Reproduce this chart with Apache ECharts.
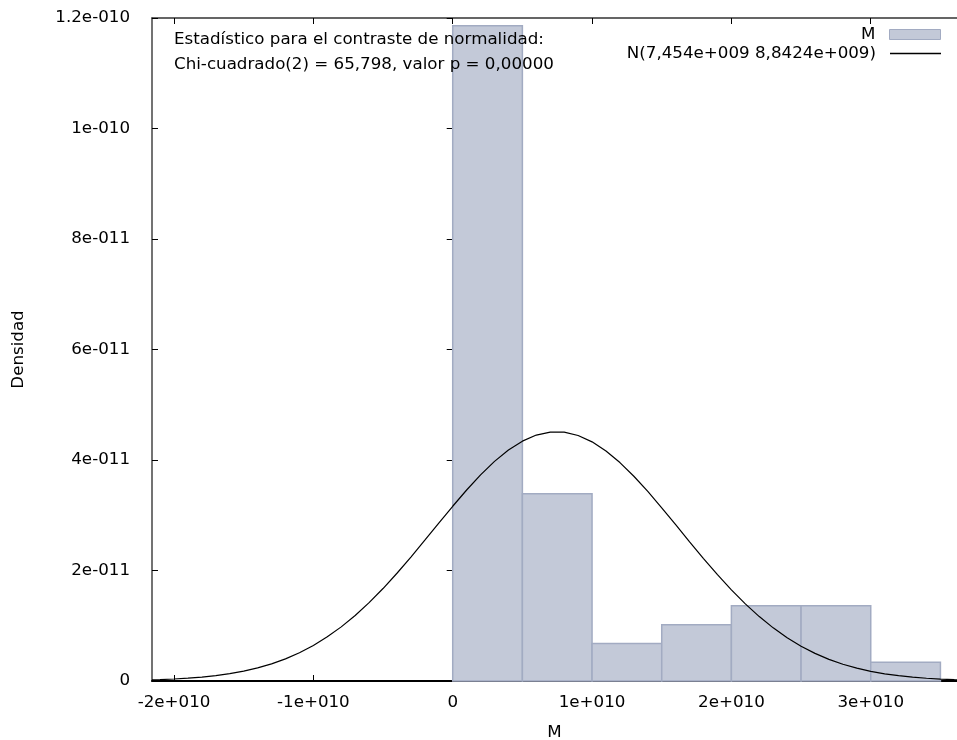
<!DOCTYPE html>
<html>
<head>
<meta charset="utf-8">
<script src="https://cdn.jsdelivr.net/npm/echarts@6/dist/echarts.min.js"></script>
<style>
html,body{margin:0;padding:0;background:#fff;}
#chart{width:957px;height:740px;}
</style>
</head>
<body>
<div id="chart"></div>
<script>
// ---- Data ----
const binStart = [0, 5e9, 1e10, 1.5e10, 2e10, 2.5e10, 3e10];
const binEnd   = [5e9, 1e10, 1.5e10, 2e10, 2.5e10, 3e10, 3.5e10];
const density  = [1.186e-10, 3.39e-11, 6.8e-12, 1.02e-11, 1.36e-11, 1.36e-11, 3.4e-12];

// Normal curve points (x in units of 1e9, y in units of 1e-11)
const curveX = [-21.58, -21, -20, -19, -18, -17, -16, -15, -14, -13, -12, -11, -10, -9, -8, -7, -6, -5, -4, -3, -2, -1,
  0, 1, 2, 3, 4, 5, 6, 7, 8, 9, 10, 11, 12, 13, 14, 15, 16, 17, 18, 19, 20, 21, 22, 23, 24, 25, 26, 27, 28, 29, 30,
  31, 32, 33, 34, 35, 36, 36.2];
const curveY = [0.0206, 0.0255, 0.0364, 0.0514, 0.0716, 0.0985, 0.1339, 0.1795, 0.2377, 0.3108, 0.4011, 0.5112,
  0.6431, 0.7989, 0.9797, 1.1862, 1.418, 1.6736, 1.950, 2.2432, 2.5477, 2.8568,
  3.1627, 3.4569, 3.7304, 3.9745, 4.1806, 4.3415, 4.4514, 4.506, 4.5034, 4.4436, 4.3288, 4.1634, 3.9534, 3.7064,
  3.4305, 3.1349, 2.8284, 2.5194, 2.2157, 1.9238, 1.649, 1.3955, 1.1661, 0.9621, 0.7835, 0.6300, 0.5002, 0.3921,
  0.3034, 0.2318, 0.1749, 0.1302, 0.0957, 0.0695, 0.0498, 0.0352, 0.0246, 0.0229];

const xTicks = [-2e10, -1e10, 0, 1e10, 2e10, 3e10];
const xTickLabels = ['-2e+010', '-1e+010', '0', '1e+010', '2e+010', '3e+010'];
const yTickLabels = ['0', '2e-011', '4e-011', '6e-011', '8e-011', '1e-010', '1.2e-010'];

const histName = 'M';
const curveName = 'N(7,454e+009 8,8424e+009)';
const statLine1 = 'Estadístico para el contraste de normalidad:';
const statLine2 = 'Chi-cuadrado(2) = 65,798, valor p = 0,00000';

// ---- Chart ----
const FONT = 'DejaVu Sans';
const FS = 16.7;
const chart = echarts.init(document.getElementById('chart'), null, {renderer: 'canvas'});

const xMin = -2.158e10, xMax = 3.619e10;
const tickStyle = {show: true, inside: true, length: 6, lineStyle: {color: '#000', width: 1}};
const legendText = {fontFamily: FONT, fontSize: FS, color: '#000', padding: [0, 9, 0, 0]};

const option = {
  animation: false,
  backgroundColor: '#fff',
  textStyle: {fontFamily: FONT},
  grid: {left: 152, top: 18, right: 0, height: 663, show: false, outerBoundsMode: 'none', containLabel: false},
  legend: [
    {
      orient: 'vertical', align: 'right', right: 16, top: 26, padding: 0,
      itemWidth: 51, itemHeight: 10,
      textStyle: legendText,
      data: [{name: histName, icon: 'rect', itemStyle: {color: '#c3c9d8', borderColor: '#a2abc2', borderWidth: 1}}]
    },
    {
      orient: 'vertical', align: 'right', right: 16, top: 45, padding: 0,
      itemWidth: 51, itemHeight: 1.3,
      textStyle: legendText,
      data: [{name: curveName, icon: 'rect', itemStyle: {color: '#000', borderWidth: 0}}]
    }
  ],
  graphic: [
    {type: 'text', z: 100, style: {x: 174, y: 40, text: statLine1, font: FS + 'px "' + FONT + '"', fill: '#000', verticalAlign: 'middle'}},
    {type: 'text', z: 100, style: {x: 174, y: 65, text: statLine2, font: FS + 'px "' + FONT + '"', fill: '#000', verticalAlign: 'middle'}}
  ],
  xAxis: [
    {
      type: 'value', min: xMin, max: xMax, position: 'bottom',
      axisLine: {show: true, onZero: false, lineStyle: {color: '#000', width: 2}},
      axisTick: Object.assign({customValues: xTicks}, tickStyle),
      axisLabel: {
        customValues: xTicks, margin: 13, color: '#000', fontFamily: FONT, fontSize: FS,
        formatter: v => xTickLabels[xTicks.indexOf(v)]
      },
      splitLine: {show: false},
      name: 'M', nameLocation: 'middle', nameGap: 43,
      nameTextStyle: {fontFamily: FONT, fontSize: FS, color: '#000'}
    },
    {
      type: 'value', min: xMin, max: xMax, position: 'top',
      axisLine: {show: true, onZero: false, lineStyle: {color: '#333', width: 1.5}},
      axisTick: Object.assign({customValues: xTicks}, tickStyle),
      axisLabel: {show: false},
      splitLine: {show: false}
    }
  ],
  yAxis: [
    {
      type: 'value', min: 0, max: 1.2e-10, interval: 2e-11, position: 'left',
      axisLine: {show: true, onZero: false, lineStyle: {color: '#444', width: 1.5}},
      axisTick: tickStyle,
      axisLabel: {
        margin: 22, color: '#000', fontFamily: FONT, fontSize: FS,
        formatter: v => yTickLabels[Math.round(v / 2e-11)]
      },
      splitLine: {show: false},
      name: 'Densidad', nameLocation: 'middle', nameRotate: 90, nameGap: 125,
      nameTextStyle: {fontFamily: FONT, fontSize: FS, color: '#000'}
    },
    {
      type: 'value', min: 0, max: 1.2e-10, interval: 2e-11, position: 'right',
      axisLine: {show: false},
      axisTick: tickStyle,
      axisLabel: {show: false},
      splitLine: {show: false}
    }
  ],
  series: [
    {
      name: histName,
      type: 'custom',
      xAxisIndex: 0, yAxisIndex: 0,
      itemStyle: {color: '#c3c9d8', borderColor: '#a2abc2', borderWidth: 1},
      encode: {x: [0, 1], y: 2},
      data: binStart.map((s, i) => [s, binEnd[i], density[i]]),
      renderItem: function (params, api) {
        const p0 = api.coord([api.value(0), api.value(2)]);
        const p1 = api.coord([api.value(1), 0]);
        return {
          type: 'rect',
          shape: {x: p0[0], y: p0[1], width: p1[0] - p0[0], height: p1[1] - p0[1]},
          style: {fill: '#c3c9d8', stroke: '#a2abc2', lineWidth: 1.5}
        };
      },
      z: 2
    },
    {
      name: curveName,
      type: 'line',
      xAxisIndex: 0, yAxisIndex: 0,
      symbol: 'none', showSymbol: false,
      lineStyle: {color: '#000', width: 1.2},
      itemStyle: {color: '#000'},
      data: curveX.map((x, i) => [x * 1e9, curveY[i] * 1e-11]),
      z: 3
    }
  ]
};
chart.setOption(option);
</script>
</body>
</html>
